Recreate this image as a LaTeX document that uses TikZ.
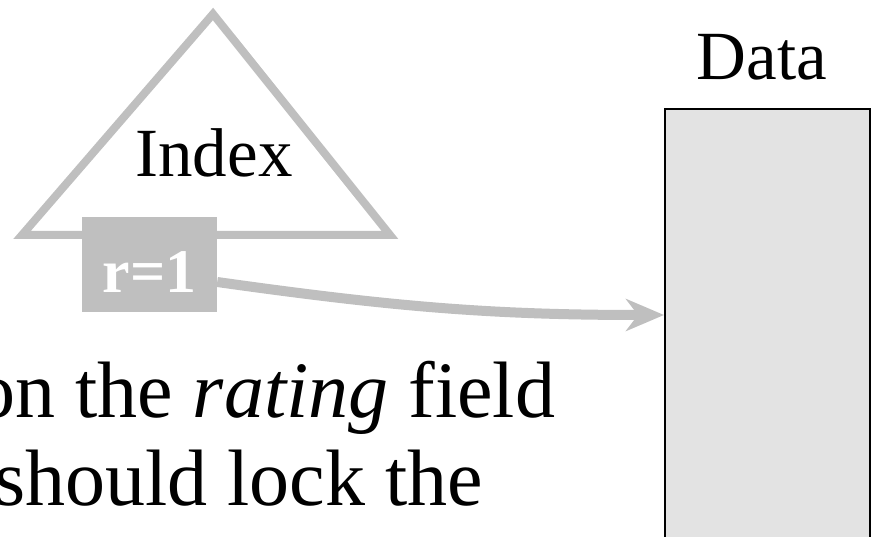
\documentclass[tikz,border=0pt]{standalone}
\usepackage{fontspec}
\setmainfont{Liberation Serif}
\usepackage{tikz}
\usetikzlibrary{arrows.meta}
\usetikzlibrary{calc}

\definecolor{idxgray}{HTML}{BFBFBF}
\definecolor{datafill}{HTML}{E3E3E3}

\begin{document}
\begin{tikzpicture}[x=1pt,y=1pt,
    idxline/.style={draw=idxgray,line width=8pt},
    keybox/.style={fill=idxgray,text=white,font=\fontsize{62}{70}\selectfont\bfseries,
        minimum width=135pt,minimum height=95pt,text height=55pt,text depth=0pt,inner sep=0pt},
    datablock/.style={draw=black,fill=datafill,line width=2pt,minimum width=205pt,minimum height=460pt,inner sep=0pt},
    caption/.style={font=\fontsize{69}{76}\selectfont,inner sep=0pt,anchor=base},
    body/.style={font=\fontsize{80}{88}\selectfont,inner sep=0pt,anchor=base west}]

\useasboundingbox (0,0) rectangle (872,-537);

\coordinate (tl) at (22,-235);
\coordinate (tt) at (213,-14);
\coordinate (tr) at (390,-235);
\draw[idxline] (tl) -- (tt) -- (tr) -- cycle;

\node[caption](index) at (214,-177) {Index};

\node[keybox](r1) at (149.5,-264.5) {r=1};

\node[datablock,anchor=north west](data) at (664,-108) {};
\node[caption](datalabel) at (762,-80) {Data};

\draw[idxgray,line width=10pt,-{Stealth[length=38pt,width=32pt,inset=12pt]}]
    ([yshift=-17.5pt]r1.east) to[out=-8,in=180] ([yshift=-207pt]data.north west);

\node[body](line1) at (-25,-417) {on the \textit{rating} field};
\node[body](line2) at (-6,-505) {should lock the};

\end{tikzpicture}
\end{document}
